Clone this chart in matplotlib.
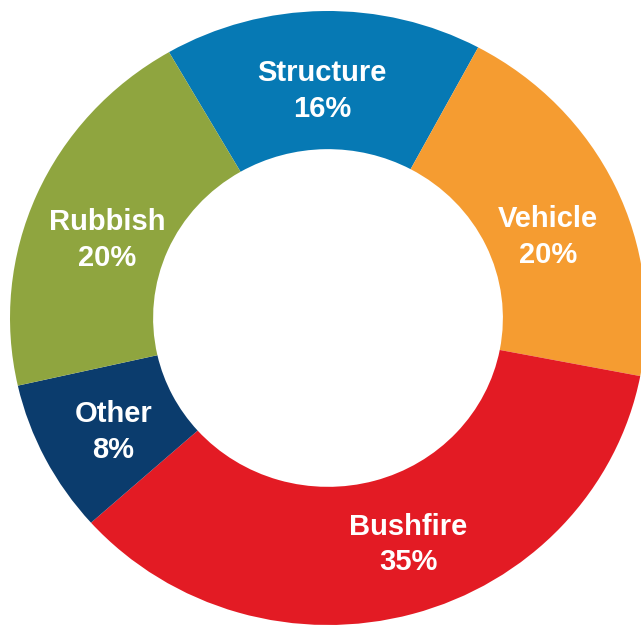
import numpy as np
import matplotlib.pyplot as plt

# data (clockwise from the top)
categories = ['Structure', 'Vehicle', 'Bushfire', 'Other', 'Rubbish']
shares = [16, 20, 35, 8, 20]
colors = ['#0679b4', '#f59c31', '#e31b24', '#0b3c6d', '#8fa53f']

# small angular nudges (degrees) so labels sit where the original put them
label_nudge = [0.5, -4.5, 3.5, 1.5, 3.5]
label_radius = [0.74, 0.74, 0.78, 0.77, 0.74]

plt.rcParams['font.family'] = ['Liberation Sans', 'DejaVu Sans']

W, H = 641, 629
fig = plt.figure(figsize=(W / 100, H / 100), dpi=100)

# the original image is slightly stretched horizontally
cx, cy = 328, 318      # centre in pixels (from top-left)
rx, ry = 318, 307      # outer radius in pixels
ax = fig.add_axes([(cx - rx) / W, (H - cy - ry) / H, 2 * rx / W, 2 * ry / H])

wedges, _ = ax.pie(shares, colors=colors, startangle=120, counterclock=False,
                   radius=1.0, wedgeprops=dict(width=0.45, linewidth=0))
ax.set_xlim(-1, 1)
ax.set_ylim(-1, 1)
ax.set_aspect('auto')
ax.axis('off')

for w, name, val, nud, r in zip(wedges, categories, shares, label_nudge, label_radius):
    ang = np.deg2rad((w.theta1 + w.theta2) / 2 + nud)
    ax.text(r * np.cos(ang), r * np.sin(ang), f'{name}\n{val}%',
            ha='center', va='center', color='white', fontsize=21,
            fontweight='bold', linespacing=1.35)

fig.savefig('out.png', dpi=100)
